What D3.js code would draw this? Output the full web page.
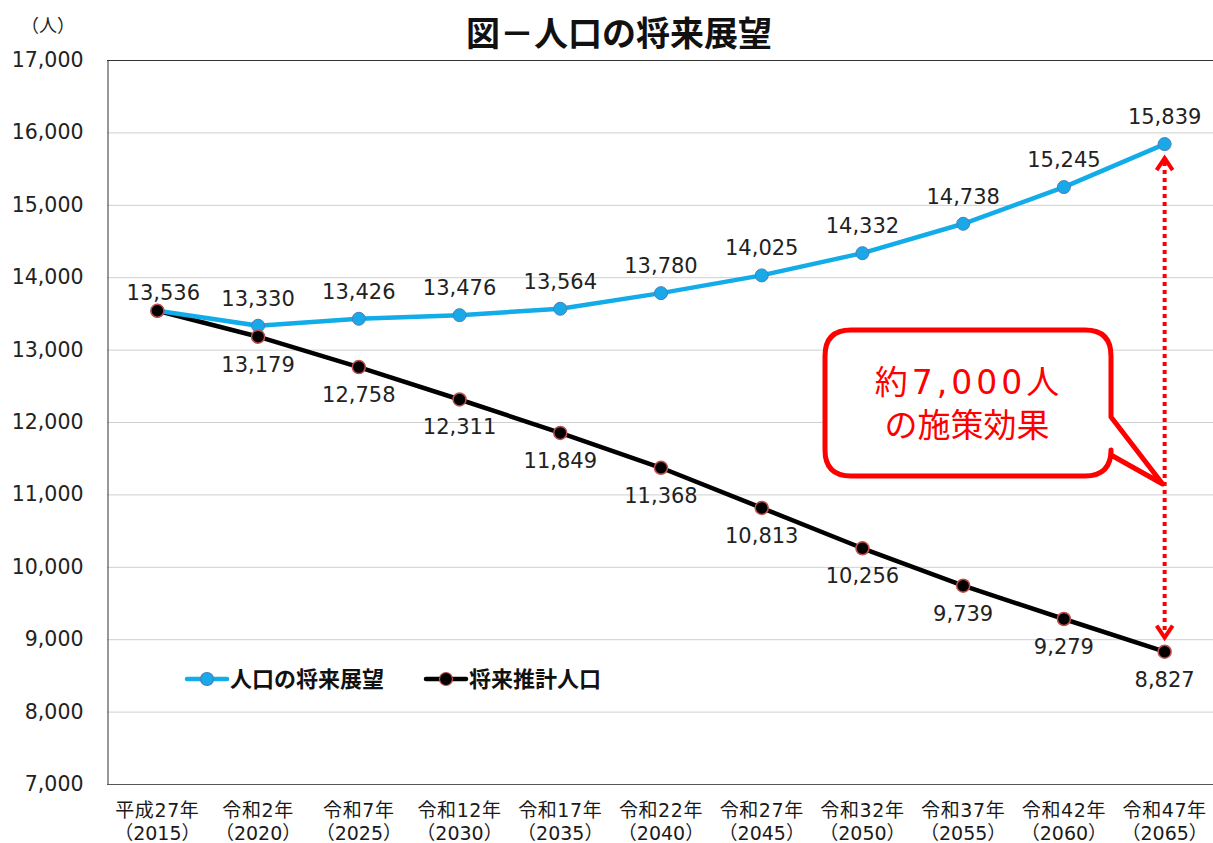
<!DOCTYPE html>
<html>
<head>
<meta charset="utf-8">
<script src="https://cdn.jsdelivr.net/npm/d3@7"></script>
<style>
  html, body { margin: 0; padding: 0; background: #fff; }
  svg { display: block; font-family: "DejaVu Sans", "Noto Sans CJK JP", sans-serif; }
  .jp { font-family: "Noto Sans CJK JP", sans-serif; }
</style>
</head>
<body>
<svg id="chart" width="1213" height="843"></svg>
<script>
// Years and their era labels
const eraLabels = ["平成27年","令和2年","令和7年","令和12年","令和17年","令和22年","令和27年","令和32年","令和37年","令和42年","令和47年"];
const yearLabels = ["（2015）","（2020）","（2025）","（2030）","（2035）","（2040）","（2045）","（2050）","（2055）","（2060）","（2065）"];
// Population outlook (target) and projected population
const outlook = [13536,13330,13426,13476,13564,13780,14025,14332,14738,15245,15839];
const projection = [13536,13179,12758,12311,11849,11368,10813,10256,9739,9279,8827];
const yTicks = [7000,8000,9000,10000,11000,12000,13000,14000,15000,16000,17000];
const seriesNames = ["人口の将来展望","将来推計人口"];

const svg = d3.select("#chart");
const plotL = 107, plotR = 1215, plotT = 60, plotB = 784;

const x = d3.scaleBand().domain(d3.range(eraLabels.length)).range([plotL, plotR]);
const cx = i => x(i) + x.bandwidth() / 2;
const y = d3.scaleLinear().domain([7000, 17000]).range([plotB, plotT]);

// Title and unit
svg.append("text").attr("class", "jp").attr("x", 619).attr("y", 46).attr("text-anchor", "middle")
  .attr("font-size", 34).attr("font-weight", "bold").attr("fill", "#111").text("図－人口の将来展望");
svg.append("text").attr("class", "jp").attr("x", 48).attr("y", 32).attr("text-anchor", "middle")
  .attr("font-size", 18).attr("fill", "#222").text("（人）");

// Gridlines
svg.append("g").selectAll("line").data(yTicks).join("line")
  .attr("x1", plotL).attr("x2", plotR)
  .attr("y1", d => y(d) + 0.5).attr("y2", d => y(d) + 0.5)
  .attr("stroke", d => d === 17000 ? "#333" : "#cfcfcf").attr("stroke-width", 1);

// Y axis
const yAxis = svg.append("g").attr("transform", `translate(${plotL + 0.5},0)`)
  .call(d3.axisLeft(y).tickValues(yTicks).tickSize(0).tickPadding(24).tickFormat(d3.format(",")));
yAxis.select(".domain").attr("stroke", "#333");
yAxis.selectAll("text").attr("font-size", 20.5).attr("fill", "#222")
  .attr("font-family", "'DejaVu Sans', sans-serif");

// X axis
const xAxis = svg.append("g").attr("transform", `translate(0,${plotB})`)
  .call(d3.axisBottom(x).tickSize(0).tickFormat(() => ""));
xAxis.select(".domain").attr("stroke", "#555").attr("d", `M${plotL},0.5H${plotR}`);
const xl = svg.append("g").selectAll("text").data(eraLabels).join("text")
  .attr("x", (d, i) => cx(i)).attr("y", 817)
  .attr("text-anchor", "middle").attr("font-size", 19).attr("fill", "#1a1a1a");
xl.append("tspan").attr("x", (d, i) => cx(i)).attr("letter-spacing", 0.6).text(d => d);
xl.append("tspan").attr("x", (d, i) => cx(i)).attr("dy", 23).text((d, i) => yearLabels[i]);

// Lines
const line = d3.line().x((d, i) => cx(i)).y(d => y(d));
svg.append("path").datum(projection).attr("d", line).attr("fill", "none")
  .attr("stroke", "#000").attr("stroke-width", 4.5).attr("stroke-linejoin", "round");
svg.append("path").datum(outlook).attr("d", line).attr("fill", "none")
  .attr("stroke", "#12ace8").attr("stroke-width", 4.5).attr("stroke-linejoin", "round");

// Markers
svg.append("g").selectAll("circle").data(outlook).join("circle")
  .attr("cx", (d, i) => cx(i)).attr("cy", d => y(d)).attr("r", 6.5)
  .attr("fill", "#19a9e8").attr("stroke", "#4a7ebb").attr("stroke-width", 1);
svg.append("g").selectAll("circle").data(projection).join("circle")
  .attr("cx", (d, i) => cx(i)).attr("cy", d => y(d)).attr("r", 6.5)
  .attr("fill", "#000").attr("stroke", "#c0504d").attr("stroke-width", 1.5);

// Value labels
const fmt = d3.format(",");
svg.append("g").selectAll("text").data(outlook).join("text")
  .attr("x", (d, i) => cx(i) + (i === 0 ? 6 : 0)).attr("y", (d, i) => y(d) - (i === 0 ? 11 : 20))
  .attr("text-anchor", "middle").attr("font-size", 21).attr("fill", "#222")
  .text(d => fmt(d));
svg.append("g").selectAll("text").data(projection.slice(1)).join("text")
  .attr("x", (d, i) => cx(i + 1)).attr("y", d => y(d) + 35)
  .attr("text-anchor", "middle").attr("font-size", 21).attr("fill", "#222")
  .text(d => fmt(d));

// Legend
const legend = [
  { name: seriesNames[0], x: 187, stroke: "#12ace8", fill: "#19a9e8", ms: "#4a7ebb" },
  { name: seriesNames[1], x: 426, stroke: "#000", fill: "#000", ms: "#c0504d" }
];
const lg = svg.append("g").selectAll("g").data(legend).join("g")
  .attr("transform", d => `translate(${d.x},679)`);
lg.append("line").attr("x1", 0).attr("x2", 40).attr("stroke", d => d.stroke)
  .attr("stroke-width", 4.5).attr("stroke-linecap", "round");
lg.append("circle").attr("cx", 20).attr("r", 6.5).attr("fill", d => d.fill)
  .attr("stroke", d => d.ms).attr("stroke-width", 1.2);
lg.append("text").attr("class", "jp").attr("x", 43).attr("y", 8).attr("font-size", 22).attr("font-weight", "bold")
  .attr("fill", "#111").text(d => d.name);

// Difference arrow (dotted, both ends)
const ax = cx(10);
const yTopA = y(outlook[10]) + 14, yBotA = y(projection[10]) - 14;
svg.append("line").attr("x1", ax).attr("x2", ax).attr("y1", yTopA + 4).attr("y2", yBotA - 4)
  .attr("stroke", "#ff0000").attr("stroke-width", 4).attr("stroke-dasharray", "4,4");
svg.append("path").attr("d", `M${ax - 8},${yTopA + 12}L${ax},${yTopA}L${ax + 8},${yTopA + 12}`)
  .attr("fill", "none").attr("stroke", "#ff0000").attr("stroke-width", 4);
svg.append("path").attr("d", `M${ax - 8},${yBotA - 12}L${ax},${yBotA}L${ax + 8},${yBotA - 12}`)
  .attr("fill", "none").attr("stroke", "#ff0000").attr("stroke-width", 4);

// Callout bubble
const bx0 = 825, by0 = 330, bx1 = 1111, by1 = 476, r = 26;
const tailY0 = 417, tailY1 = 455, tipX = ax - 2, tipY = 484;
const bubble = `M${bx0 + r},${by0}H${bx1 - r}Q${bx1},${by0} ${bx1},${by0 + r}V${tailY0}L${tipX},${tipY}L${bx1},${tailY1}V${by1 - r}Q${bx1},${by1} ${bx1 - r},${by1}H${bx0 + r}Q${bx0},${by1} ${bx0},${by1 - r}V${by0 + r}Q${bx0},${by0} ${bx0 + r},${by0}Z`;
svg.append("path").attr("d", bubble).attr("fill", "#fff").attr("stroke", "#ff0000")
  .attr("stroke-width", 5).attr("stroke-linejoin", "round");
const c1 = svg.append("text").attr("x", 967).attr("y", 394).attr("text-anchor", "middle")
  .attr("font-size", 33).attr("fill", "#ff0000");
c1.append("tspan").attr("class", "jp").text("約");
c1.append("tspan").attr("dx", 4).attr("letter-spacing", 4).text("7,000");
c1.append("tspan").attr("class", "jp").text("人");
svg.append("text").attr("class", "jp").attr("x", 967).attr("y", 437).attr("text-anchor", "middle")
  .attr("font-size", 33).attr("fill", "#ff0000").text("の施策効果");
</script>
</body>
</html>
